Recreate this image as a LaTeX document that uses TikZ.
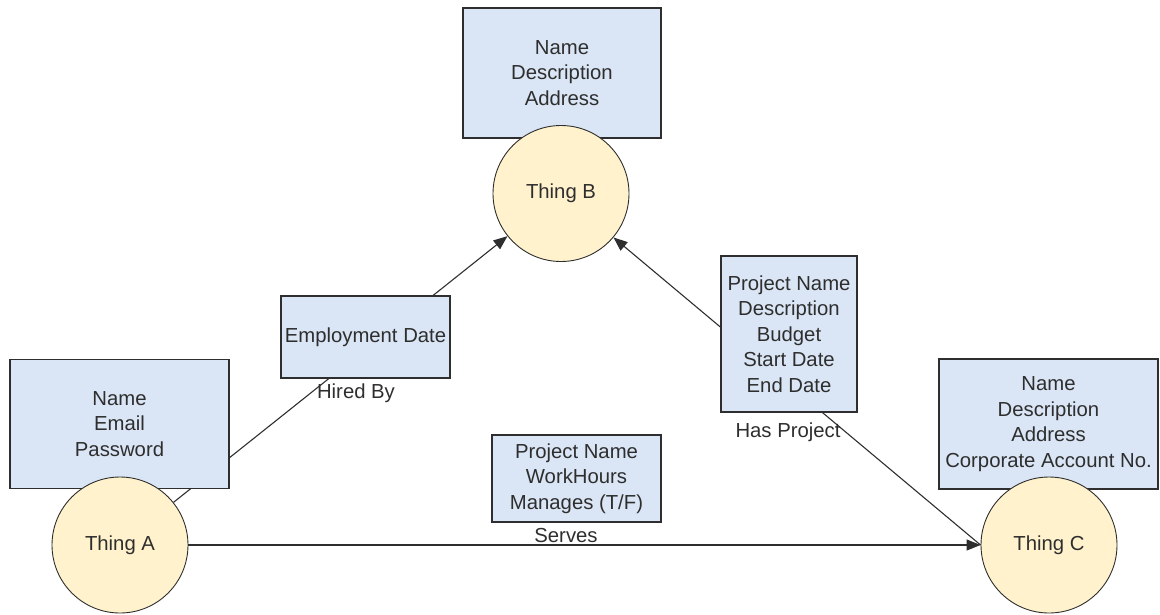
\documentclass[tikz,border=0pt]{standalone}
\usepackage{fontspec}
\setmainfont{Liberation Sans}
\usetikzlibrary{arrows.meta,backgrounds}
\definecolor{boxfill}{HTML}{DAE6F5}
\definecolor{thingfill}{HTML}{FFF2CC}
\definecolor{ink}{HTML}{2E2E2E}
\tikzset{
  attrbox/.style={draw=ink, line width=1.3pt, fill=boxfill, rectangle, inner sep=0pt,
    align=center, text=ink, font=\fontsize{20.3}{25.5}\selectfont},
  thing/.style={draw=ink, line width=0.9pt, fill=thingfill, circle, inner sep=0pt,
    minimum size=136pt, text=ink, font=\fontsize{20.3}{25.5}\selectfont},
  rel/.style={draw=ink, line width=1.1pt},
  relarrow/.style={rel, -{Triangle[length=14pt,width=11pt]}},
  tag/.style={text=ink, font=\fontsize{20.3}{25.5}\selectfont, inner sep=0pt}
}
\begin{document}
\begin{tikzpicture}[x=1pt,y=-1pt]
\useasboundingbox (0,0) rectangle (1160,614);

% attribute boxes of the three things
\node[attrbox, minimum width=219pt, minimum height=129pt] (boxA) at (119.5,424)
  {Name\\Email\\Password};
\node[attrbox, minimum width=198pt, minimum height=130pt] (boxB) at (562,73)
  {Name\\Description\\Address};
\node[attrbox, minimum width=219pt, minimum height=130pt] (boxC) at (1048.5,424)
  {Name\\Description\\Address\\Corporate Account No.};

% the things themselves
\node[thing] (A) at (120,545) {Thing A};
\node[thing] (B) at (561,193.5) {Thing B};
\node[thing] (C) at (1049,545) {Thing C};

% relationship attribute boxes
\node[attrbox, minimum width=169pt, minimum height=82pt] (emp) at (365.5,337)
  {Employment Date};
\node[attrbox, minimum width=136pt, minimum height=156pt] (proj) at (789,334)
  {Project Name\\Description\\Budget\\Start Date\\End Date};
\node[attrbox, minimum width=169pt, minimum height=87pt] (serv) at (576.5,478.5)
  {Project Name\\WorkHours\\Manages (T/F)};

% relationship names
\node[tag] (hired) at (356,393) {Hired By};
\node[tag] (hasproj) at (788,432) {Has Project};
\node[tag] (serves) at (566,536) {Serves};

% connectors, behind the boxes
\begin{scope}[on background layer]
  \draw[relarrow] (A) -- (B);
  \draw[relarrow] (C.west) -- (B);
  \draw[relarrow] (A) -- (C);
\end{scope}
\end{tikzpicture}
\end{document}
